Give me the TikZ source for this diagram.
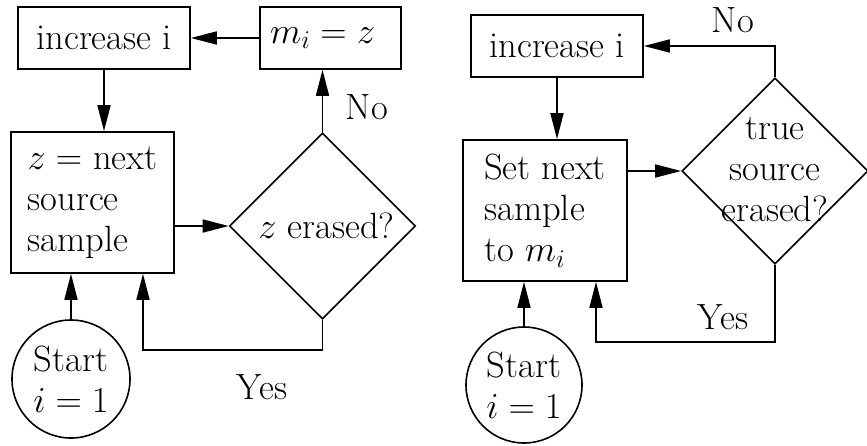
\RequirePackage{fix-cm}
\documentclass[tikz,border=0pt]{standalone}
\usetikzlibrary{arrows.meta,shapes.geometric}
\begin{document}
\begin{tikzpicture}[x=1pt,y=-1pt,line width=1.6pt,
  every node/.style={font=\fontsize{36.5}{41}\selectfont},
  box/.style={draw,rectangle,inner sep=0pt},
  dec/.style={draw,diamond,inner sep=0pt,minimum width=186pt,minimum height=186pt},
  startnode/.style={draw,circle,inner sep=0pt,align=center},
  arr/.style={-{Triangle[length=26pt,width=13pt]}}]
\useasboundingbox (0,0) rectangle (867,445);
% ---------- left flowchart ----------
\node[box,minimum width=172pt,minimum height=62pt] (inc1) at (104,38) {increase i};
\node[box,minimum height=62pt,text width=121pt,inner xsep=10pt,align=left] (m1) at (330.5,38) {$m_i = z$};
\node[box,minimum width=163pt,minimum height=141pt,align=left] (z1) at (92.5,202.5) {$z=$ next\\source\\sample};
\node[dec] (d1) at (322.5,226) {};
\node (d1t) at ([xshift=4pt]d1.center) {$z$ erased?};
\node[startnode,minimum size=118pt] (s1) at (71,379) {Start\\$i=1$};
\node (no1) at (367,107) {No};
\node (yes1) at (262,387) {Yes};
\coordinate (y1) at (143,350);
\draw[arr] (m1.west) -- (inc1.east);
\draw[arr] (inc1.south) -- (inc1.south |- z1.north);
\draw[arr] (z1.east |- d1.west) -- (d1.west);
\draw[arr] (d1.north) -- (d1.north |- m1.south);
\draw[arr] (d1.south) |- (y1) -- (y1 |- z1.south);
\draw[arr] (s1.north) -- (s1.north |- z1.south);
% ---------- right flowchart ----------
\node[box,minimum width=172pt,minimum height=62pt] (inc2) at (557,46) {increase i};
\node[box,minimum width=164pt,minimum height=141pt,align=left] (set2) at (545,210.5) {Set next\\sample\\to $m_i$};
\node[dec] (d2) at (775,171) {};
\node[align=center] (d2t) at ([yshift=2pt]d2.center) {true\\source\\erased?};
\node[startnode,minimum size=116pt] (s2) at (524,385) {Start\\$i=1$};
\node (no2) at (733,20) {No};
\node (yes2) at (723,317) {Yes};
\coordinate (y2) at (596,342);
\draw[arr] (inc2.south) -- (inc2.south |- set2.north);
\draw[arr] (set2.east |- d2.west) -- (d2.west);
\draw[arr] (d2.north) |- (inc2.east);
\draw[arr] (d2.south) |- (y2) -- (y2 |- set2.south);
\draw[arr] (s2.north) -- (s2.north |- set2.south);
\end{tikzpicture}
\end{document}
